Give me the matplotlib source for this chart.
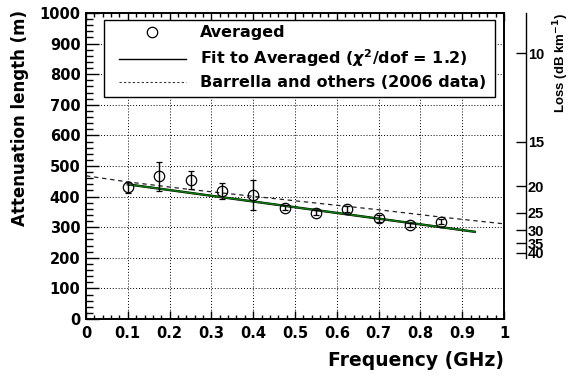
import matplotlib
matplotlib.use('Agg')
import matplotlib.pyplot as plt
from matplotlib.ticker import AutoMinorLocator, FuncFormatter, MultipleLocator
from matplotlib.patches import Rectangle

plt.rcParams['font.family'] = 'DejaVu Sans'
plt.rcParams['font.weight'] = 'bold'
plt.rcParams['axes.labelweight'] = 'bold'

# averaged attenuation length measurements
freq = [0.1, 0.175, 0.25, 0.325, 0.4, 0.475, 0.55, 0.625, 0.7, 0.775, 0.85]
att = [430, 466, 454, 419, 406, 364, 348, 360, 329, 307, 318]
att_err = [19, 48, 30, 27, 49, 9, 7, 9, 11, 7, 9]

# linear fit to averaged points (end points)
fit_freq = [0.1, 0.93]
fit_att = [440, 285]

# Barrella et al. 2006 data curve
barrella_freq = [0.0, 0.1, 0.25, 0.4, 0.55, 0.7, 0.85, 1.0]
barrella_att = [468, 448, 423, 401, 379, 357, 333, 311]

# loss axis ticks (dB/km), field attenuation length L -> 20*log10(e)/L
loss_ticks = [10, 15, 20, 25, 30, 35, 40]
DB_KM_TIMES_M = 8686.0

fig = plt.figure(figsize=(5.7, 3.77), dpi=100)
ax = fig.add_axes([86 / 570, 58 / 377, 418 / 570, 306 / 377])

ax.set_xlim(0, 1)
ax.set_ylim(0, 1000)

ax.grid(True, which='major', color='black', linestyle=(0, (1, 2)), linewidth=0.7)
ax.set_axisbelow(True)

ax.plot(barrella_freq, barrella_att, color='#222222', linestyle=(0, (3.5, 3)), linewidth=0.9)
ax.plot(fit_freq, fit_att, color='black', linewidth=1.7)
ax.plot(fit_freq, fit_att, color='#0b7a0b', linewidth=1.1)
ax.errorbar(freq, att, yerr=att_err, fmt='o', mfc='none', mec='black', ms=7.5, mew=0.9,
            ecolor='black', elinewidth=1.0, capsize=2.3, capthick=1.0, zorder=5)

ax.xaxis.set_major_locator(MultipleLocator(0.1))
ax.xaxis.set_minor_locator(AutoMinorLocator(5))
ax.yaxis.set_major_locator(MultipleLocator(100))
ax.yaxis.set_minor_locator(AutoMinorLocator(5))
ax.xaxis.set_major_formatter(FuncFormatter(lambda v, p: f'{v:g}'))
ax.yaxis.set_major_formatter(FuncFormatter(lambda v, p: f'{v:.0f}'))

ax.tick_params(which='both', direction='in', top=True, right=True, width=1.0, labelsize=10.5)
ax.tick_params(axis='x', which='major', length=5.5, pad=5)
ax.tick_params(axis='x', which='minor', length=3)
ax.tick_params(axis='y', which='major', length=9.5, pad=4)
ax.tick_params(axis='y', which='minor', length=5)
for s in ax.spines.values():
    s.set_linewidth(1.4)

ax.set_xlabel('Frequency (GHz)', fontsize=13.5, loc='right')
ax.xaxis.set_label_coords(1.0, -0.103)
ax.set_ylabel('Attenuation length (m)', fontsize=12, loc='top')
ax.yaxis.set_label_coords(-0.137, 1.01)

# legend box drawn by hand, ROOT style
ax.add_patch(Rectangle((0.0431, 0.7255), 0.9354, 0.2515, transform=ax.transAxes,
                       facecolor='white', edgecolor='black', linewidth=1.0, zorder=10))
rows = [0.9379, 0.8513, 0.7755]
base = [0.9206, 0.8333, 0.7572]
labels = ['Averaged', r'Fit to Averaged ($\chi^{2}$/dof = 1.2)', 'Barrella and others (2006 data)']
ax.plot([0.159], [rows[0]], 'o', mfc='none', mec='black', ms=7.5, mew=0.9,
        transform=ax.transAxes, zorder=11)
ax.plot([0.0789, 0.2392], [rows[1]] * 2, color='black', linewidth=1.0,
        transform=ax.transAxes, zorder=11)
ax.plot([0.0789, 0.2392], [rows[2]] * 2, color='#333333', linestyle=(0, (2, 2)), linewidth=0.8,
        transform=ax.transAxes, zorder=11)
for yb, txt in zip(base, labels):
    ax.text(0.2727, yb, txt, transform=ax.transAxes, fontsize=11.5, va='baseline', ha='left',
            zorder=11)

# loss scale on the right
ax2 = ax.twinx()
ax2.set_ylim(0, 1000)
for side in ['top', 'bottom', 'left']:
    ax2.spines[side].set_visible(False)
ax2.spines['right'].set_position(('axes', (525.7 - 86) / 418))
ax2.spines['right'].set_bounds(200, 1000)
ax2.spines['right'].set_linewidth(1.0)
ax2.set_yticks([DB_KM_TIMES_M / d for d in loss_ticks])
ax2.set_yticklabels([str(d) for d in loss_ticks])
ax2.tick_params(axis='y', direction='in', length=7.5, width=1.0, pad=1.5,
                labelsize=10.5, labelfontfamily='Liberation Sans')
fig.text(561 / 570, 1 - 13 / 377, r'Loss (dB km$^{-1}$)', rotation=90, ha='center', va='top',
         fontsize=9.5, family='Liberation Sans')

fig.savefig('out.png', dpi=100)
